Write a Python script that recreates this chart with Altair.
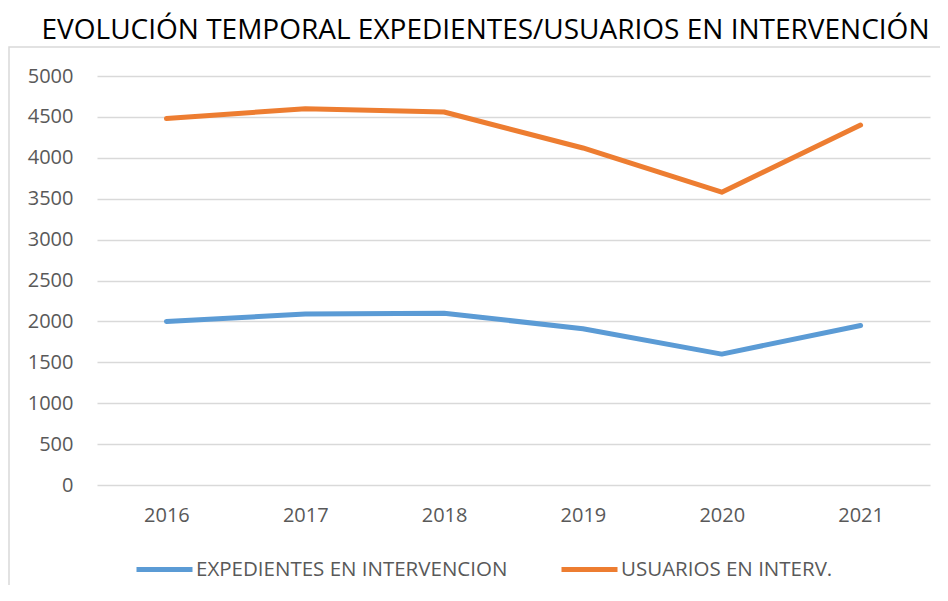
import altair as alt
import pandas as pd

years = ["2016", "2017", "2018", "2019", "2020", "2021"]
expedientes = [2000, 2090, 2100, 1910, 1600, 1950]
usuarios = [4480, 4600, 4560, 4120, 3580, 4400]
series_names = ["EXPEDIENTES EN INTERVENCION", "USUARIOS EN INTERV."]
series_colors = ["#5B9BD5", "#ED7D31"]
y_ticks = list(range(0, 5001, 500))

rows = []
for y, v in zip(years, expedientes):
    rows.append({"year": y, "value": v, "serie": series_names[0]})
for y, v in zip(years, usuarios):
    rows.append({"year": y, "value": v, "serie": series_names[1]})
df = pd.DataFrame(rows)

FONT = "Open Sans"

lines = alt.Chart(df).mark_line(strokeWidth=5, strokeCap="round", strokeJoin="round").encode(
    x=alt.X("year:O", sort=years, scale=alt.Scale(type="point", padding=0.5),
            axis=alt.Axis(title=None, labelAngle=0, domain=False, ticks=False,
                          labelPadding=20, labelFontSize=20, labelColor="#595959",
                          labelFont=FONT)),
    y=alt.Y("value:Q", scale=alt.Scale(domain=[0, 5000], nice=False),
            axis=alt.Axis(title=None, values=y_ticks, format="d", domain=False, ticks=False,
                          labelPadding=24, labelFontSize=20, labelColor="#595959",
                          labelFont=FONT, gridColor="#D9D9D9", gridWidth=1.5)),
    color=alt.Color("serie:N", sort=series_names,
                    scale=alt.Scale(domain=series_names, range=series_colors),
                    legend=alt.Legend(title=None, orient="none", direction="horizontal",
                                      legendX=37, legendY=463,
                                      symbolType="stroke", symbolSize=3136,
                                      symbolStrokeWidth=5, labelFontSize=20.5,
                                      labelColor="#595959", labelFont=FONT,
                                      labelOffset=1, columnPadding=43,
                                      labelLimit=600)),
)

border = alt.Chart(pd.DataFrame({"a": [0]})).mark_rect(
    fill=None, stroke="#D9D9D9", strokeWidth=1.5
).encode(
    x=alt.value(-88), x2=alt.value(870), y=alt.value(-29), y2=alt.value(560)
)

chart = alt.layer(border, lines).properties(
    width=833, height=409,
    autosize=alt.AutoSizeParams(type="none"),
    padding={"left": 89, "top": 68, "right": 10, "bottom": 100},
    title=alt.TitleParams(
        "EVOLUCIÓN TEMPORAL EXPEDIENTES/USUARIOS EN INTERVENCIÓN",
        font=FONT, fontSize=28, fontWeight="normal", color="#000000",
        anchor="middle", dx=-28, dy=31, offset=4, baseline="bottom"
    ),
).configure_view(stroke=None)

chart.save("out.html", embed_options={"renderer": "svg", "actions": False})
